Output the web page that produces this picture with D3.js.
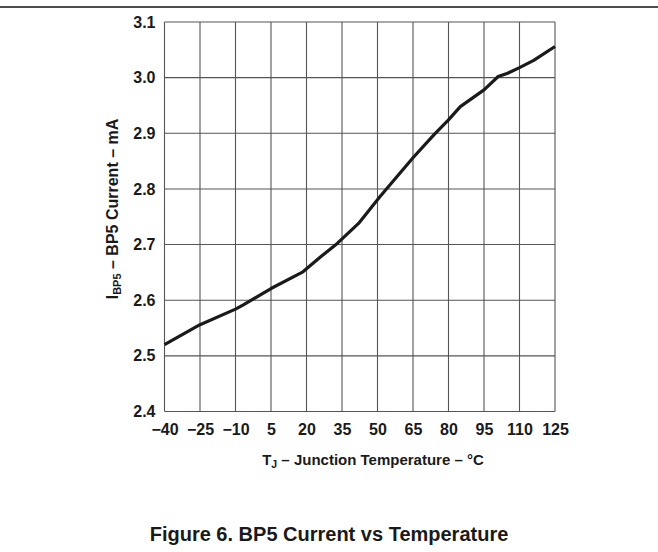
<!DOCTYPE html>
<html>
<head>
<meta charset="utf-8">
<script src="https://cdn.jsdelivr.net/npm/d3@7"></script>
<style>
  html, body { margin: 0; padding: 0; background: #fff; }
  svg { display: block; }
  text { font-family: "Liberation Sans", Arial, Helvetica, sans-serif; font-weight: bold; fill: #1a1a1a; }
</style>
</head>
<body>
<svg id="chart" width="658" height="552"></svg>
<script>
// Junction temperature (°C) and BP5 current (mA)
const temperature = [-40, -25, -10, -6.5, 5, 18.5, 26, 33, 42, 51, 65, 74, 80, 85, 95, 101, 105, 110, 116, 125];
const current =     [2.520, 2.556, 2.584, 2.592, 2.621, 2.651, 2.678, 2.702, 2.738, 2.786, 2.856, 2.898, 2.924, 2.948, 2.978, 3.002, 3.008, 3.018, 3.031, 3.056];

const xTicks = [-40, -25, -10, 5, 20, 35, 50, 65, 80, 95, 110, 125];
const yTicks = [2.4, 2.5, 2.6, 2.7, 2.8, 2.9, 3.0, 3.1];

const xTitle = ["T", "J", " – Junction Temperature – °C"];
const yTitle = ["I", "BP5", " – BP5 Current – mA"];
const figTitle = "Figure 6. BP5 Current vs Temperature";

const svg = d3.select("#chart");
const W = 658, H = 552;
const pL = 164.5, pR = 555, pT = 22, pB = 411.5;

const x = d3.scaleLinear().domain([-40, 125]).range([pL, pR]);
const y = d3.scaleLinear().domain([2.4, 3.1]).range([pB, pT]);

// top rule
svg.append("line").attr("x1", 0).attr("x2", W).attr("y1", 7).attr("y2", 7)
  .attr("stroke", "#111").attr("stroke-width", 1.5);

// grid
const grid = svg.append("g").attr("stroke", "#555").attr("stroke-width", 1.1);
grid.selectAll("line.v").data(xTicks).join("line").attr("class", "v")
  .attr("x1", d => x(d)).attr("x2", d => x(d)).attr("y1", pT).attr("y2", pB);
grid.selectAll("line.h").data(yTicks).join("line").attr("class", "h")
  .attr("x1", pL).attr("x2", pR).attr("y1", d => y(d)).attr("y2", d => y(d));

// axes labels via d3 axes
const fmtX = d => d < 0 ? "\u2212" + Math.abs(d) : String(d);
const xAxis = svg.append("g").attr("transform", `translate(0,${pB})`)
  .call(d3.axisBottom(x).tickValues(xTicks).tickSize(0).tickPadding(12).tickFormat(fmtX));
const yAxis = svg.append("g").attr("transform", `translate(${pL},0)`)
  .call(d3.axisLeft(y).tickValues(yTicks).tickSize(0).tickPadding(9).tickFormat(d3.format(".1f")));
[xAxis, yAxis].forEach(a => {
  a.select(".domain").remove();
  a.selectAll("text").attr("font-size", 16).attr("font-family", null).attr("fill", "#1a1a1a");
});

// curve
const pts = temperature.map((t, i) => [t, current[i]]);
svg.append("path").datum(pts)
  .attr("fill", "none").attr("stroke", "#1a1a1a").attr("stroke-width", 3.2)
  .attr("stroke-linejoin", "round")
  .attr("d", d3.line().x(d => x(d[0])).y(d => y(d[1])));

// x title
const xt = svg.append("text").attr("x", 373).attr("y", 465).attr("text-anchor", "middle").attr("font-size", 15);
xt.append("tspan").text(xTitle[0]);
xt.append("tspan").attr("font-size", 10.5).attr("dy", 3).text(xTitle[1]);
xt.append("tspan").attr("dy", -3).text(xTitle[2]);

// y title
const yt = svg.append("text").attr("transform", "translate(118,209) rotate(-90)")
  .attr("text-anchor", "middle").attr("font-size", 16);
yt.append("tspan").text(yTitle[0]);
yt.append("tspan").attr("font-size", 11).attr("dy", 3).text(yTitle[1]);
yt.append("tspan").attr("dy", -3).text(yTitle[2]);

// figure title
svg.append("text").attr("x", 329).attr("y", 541).attr("text-anchor", "middle")
  .attr("font-size", 20).text(figTitle);
</script>
</body>
</html>
